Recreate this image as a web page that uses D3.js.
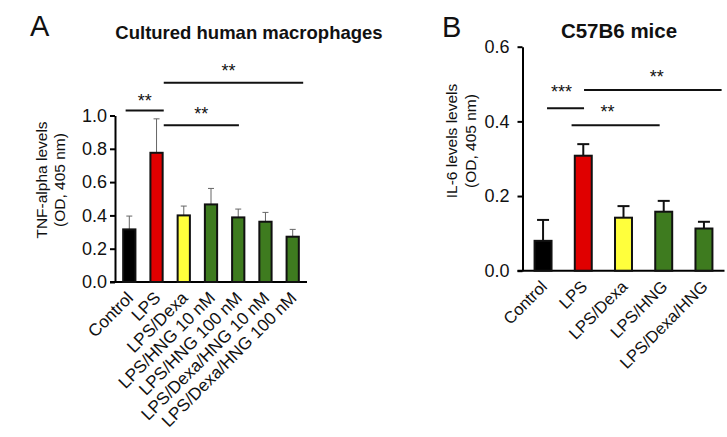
<!DOCTYPE html>
<html><head><meta charset="utf-8">
<script src="https://cdn.jsdelivr.net/npm/d3@7"></script>
<style>body{margin:0;background:#fff}svg{display:block;font-family:"Liberation Sans",Arial,sans-serif}</style>
</head><body><svg id="c" width="727" height="437"></svg>
<script>
// Panel A data
const catsA = ["Control","LPS","LPS/Dexa","LPS/HNG 10 nM","LPS/HNG 100 nM","LPS/Dexa/HNG 10 nM","LPS/Dexa/HNG 100 nM"];
const meanA = [0.316, 0.776, 0.400, 0.466, 0.388, 0.362, 0.272];
const errA  = [0.080, 0.204, 0.056, 0.096, 0.050, 0.056, 0.044];
const colorsA = ["#000000","#e00000","#ffff3c","#3e7b1f","#3e7b1f","#3e7b1f","#3e7b1f"];
const ticksA = [0, 0.2, 0.4, 0.6, 0.8, 1.0];
// Panel B data
const catsB = ["Control","LPS","LPS/Dexa","LPS/HNG","LPS/Dexa/HNG"];
const meanB = [0.080, 0.308, 0.142, 0.158, 0.113];
const errB  = [0.056, 0.031, 0.031, 0.029, 0.018];
const colorsB = ["#000000","#e00000","#ffff3c","#3e7b1f","#3e7b1f"];
const ticksB = [0, 0.2, 0.4, 0.6];
// significance brackets: [from category, to category, value level, label]
const sigA = [["Control","LPS",1.03,"**"],["LPS","LPS/HNG 100 nM",0.941,"**"],["LPS","LPS/Dexa/HNG 100 nM",1.197,"**"]];
const sigB = [["Control","LPS",0.435,"***"],["LPS","LPS/HNG",0.3895,"**"],["LPS","LPS/Dexa/HNG",0.484,"**"]];

const svg = d3.select("#c");

function panel(o){
  const g = svg.append("g");
  const x = d3.scaleBand().domain(o.cats).range([o.x0, o.x1]).paddingInner(o.pin).paddingOuter(0.3);
  const y = d3.scaleLinear().domain([0, o.ymax]).range([o.y0, o.y1]);
  const ya = g.append("g").attr("transform",`translate(${o.x0},0)`)
    .call(d3.axisLeft(y).tickValues(o.ticks).tickFormat(d3.format(".1f")).tickSize(5).tickPadding(o.tpad).tickSizeOuter(0));
  ya.select(".domain").attr("stroke","#000").attr("stroke-width",2);
  ya.selectAll(".tick line").attr("stroke","#000").attr("stroke-width",2);
  ya.selectAll(".tick text").attr("font-size",o.tfs).attr("fill","#111").attr("font-family","Liberation Sans, Arial, sans-serif");
  g.append("line").attr("x1",o.x0-5).attr("x2",o.x1).attr("y1",y(0)).attr("y2",y(0)).attr("stroke","#000").attr("stroke-width",2);
  const cx = d => x(d)+x.bandwidth()/2;
  o.cats.forEach((c,i)=>{
    const top = y(o.mean[i]+o.err[i]);
    g.append("line").attr("x1",cx(c)).attr("x2",cx(c)).attr("y1",y(o.mean[i])).attr("y2",top).attr("stroke",o.ecol).attr("stroke-width",o.ew);
    g.append("line").attr("x1",cx(c)-o.cap).attr("x2",cx(c)+o.cap).attr("y1",top).attr("y2",top).attr("stroke",o.ecol).attr("stroke-width",o.ew);
  });
  g.selectAll("rect.bar").data(o.cats).join("rect").attr("class","bar")
    .attr("x",d=>x(d)).attr("width",x.bandwidth())
    .attr("y",(d,i)=>y(o.mean[i])).attr("height",(d,i)=>y(0)-y(o.mean[i]))
    .attr("fill",(d,i)=>o.colors[i]).attr("stroke","#111").attr("stroke-width",2);
  g.selectAll("text.xl").data(o.cats).join("text").attr("class","xl")
    .attr("transform",d=>`translate(${cx(d)+o.lx},${y(0)+o.ly}) rotate(-45)`)
    .attr("text-anchor","end").attr("font-size",o.xfs).attr("fill","#111").text(d=>d);
  const ylab = g.append("text").attr("transform",`translate(${o.ylx},${o.yly}) rotate(-90)`)
    .attr("text-anchor","middle").attr("font-size",o.yfs).attr("fill","#111");
  ylab.append("tspan").attr("x",0).attr("dy",0).text(o.ylab1);
  ylab.append("tspan").attr("x",0).attr("dy",o.ylgap).text(o.ylab2);
  g.append("text").attr("x",o.titx).attr("y",o.tity).attr("text-anchor","middle").attr("font-weight","bold").attr("font-size",o.titfs).attr("fill","#111").text(o.title);
  g.append("text").attr("x",o.letx).attr("y",o.lety).attr("font-size",29).attr("fill","#111").text(o.letter);
  // significance lines: anchors are fractions of the band step from each band's start
  o.sig.forEach((s,k)=>{
    const a = o.sigAnchor[k];
    const xa = x(s[0]) + a[0]*x.step();
    const xb = x(s[1]) + a[1]*x.step();
    const yy = y(s[2]);
    g.append("line").attr("x1",xa).attr("x2",xb).attr("y1",yy).attr("y2",yy).attr("stroke","#111").attr("stroke-width",2);
    g.append("text").attr("x",(xa+xb)/2 + a[2]).attr("y",yy - a[3]).attr("text-anchor","middle").attr("font-size",o.sfs).attr("fill","#111").text(s[3]);
  });
}

panel({cats:catsA, mean:meanA, err:errA, colors:colorsA, ticks:ticksA, ymax:1.0,
  x0:115, x1:307, pin:0.55, y0:282, y1:115.5, tpad:3, tfs:18, ecol:"#666", ew:1, cap:3,
  lx:5, ly:17, xfs:17.2, ylab1:"TNF-alpha levels", ylab2:"(OD, 405 nm)", ylx:47, yly:180, yfs:15.5, ylgap:18,
  title:"Cultured human macrophages", titx:249, tity:39, titfs:18.5, letter:"A", letx:30, lety:36,
  sig:sigA, sigAnchor:[[0.09,0.49,0,3.5],[0.49,0.25,0,5.5],[0.49,0.61,-5,5.5]], sfs:18});
panel({cats:catsB, mean:meanB, err:errB, colors:colorsB, ticks:ticksB, ymax:0.6,
  x0:522.5, x1:724.5, pin:0.578, y0:270.7, y1:46.7, tpad:8, tfs:18, ecol:"#111", ew:2, cap:6,
  lx:5, ly:17, xfs:16.6, ylab1:"IL-6 levels levels", ylab2:"(OD, 405 nm)", ylx:457, yly:141, yfs:15.5, ylgap:19,
  title:"C57B6 mice", titx:619, tity:38, titfs:20.5, letter:"B", letx:442, lety:37,
  sig:sigB, sigAnchor:[[0.31,0.23,-4,10.5],[-0.08,0.11,-8,7.5],[0.23,0.65,4,7.5]], sfs:18});
</script></body></html>
